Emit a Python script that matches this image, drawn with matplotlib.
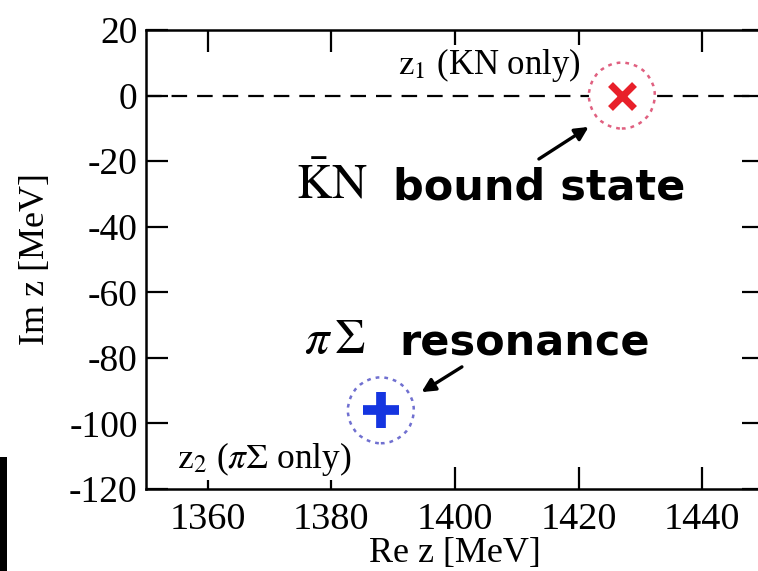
import matplotlib
matplotlib.use("Agg")
import matplotlib.pyplot as plt
from matplotlib.patches import Rectangle

plt.rcParams["font.family"] = ["Liberation Serif", "DejaVu Serif"]
plt.rcParams["mathtext.fontset"] = "stix"
plt.rcParams["axes.unicode_minus"] = False

# pole positions in the complex energy plane (MeV)
pole_re = [1427, 1388]
pole_im = [0, -96]
pole_colors = ["#e8202a", "#1535e0"]
ring_colors = ["#e06080", "#7070d0"]
pole_markers = ["x", "+"]

x_ticks = [1360, 1380, 1400, 1420, 1440]
y_ticks = [20, 0, -20, -40, -60, -80, -100, -120]

W, H = 758, 571
fig = plt.figure(figsize=(W / 100, H / 100), dpi=100)
ax = fig.add_axes([146 / W, 82 / H, (764 - 146) / W, (489 - 30) / H])
ax.set_xlim(1350, 1450)
ax.set_ylim(-120, 20)
ax.set_xticks(x_ticks)
ax.set_yticks(y_ticks)
ax.tick_params(direction="in", length=16, width=1.6, top=True, right=True)
ax.tick_params(axis="x", labelsize=27.5, pad=10)
ax.tick_params(axis="y", labelsize=27, pad=6)
for s in ax.spines.values():
    s.set_linewidth(1.8)

ax.axhline(0, color="black", lw=1.6, ls=(0, (7, 4.5)), zorder=1)

# dotted rings around the poles
ax.scatter(pole_re[0], pole_im[0], s=2250, facecolors="white",
           edgecolors=ring_colors[0], linewidths=1.8, linestyles=(0, (1.5, 2.0)), zorder=3)
ax.scatter(pole_re[1], pole_im[1], s=2250, facecolors="white",
           edgecolors=ring_colors[1], linewidths=1.8, linestyles=(0, (1.5, 2.0)), zorder=3)
ax.plot(pole_re[0], pole_im[0], marker=pole_markers[0], color=pole_colors[0],
        ms=17, mew=5, ls="none", zorder=4)
ax.plot(pole_re[1], pole_im[1], marker=pole_markers[1], color=pole_colors[1],
        ms=26, mew=7, ls="none", zorder=4)

# pole labels
ax.text(1405.5, 9.3, r"$\mathrm{z}_1$ (KN only)", fontsize=25, ha="center", va="center",
        bbox=dict(facecolor="white", edgecolor="none", pad=1), zorder=2)
ax.text(1355, -111, r"$\mathrm{z}_2$ ($\pi\Sigma$ only)", fontsize=25.5, ha="left", va="center",
        bbox=dict(facecolor="white", edgecolor="none", pad=1), zorder=2)

ax.text(1380, -27.5, r"$\bar{\mathrm{K}}\mathrm{N}$", fontsize=35, ha="center", va="center")
ax.text(1390, -28, "bound state", fontsize=31, fontweight="bold",
        family="DejaVu Sans", ha="left", va="center")
ax.text(1380.6, -75, r"$\pi\,\Sigma$", fontsize=35, ha="center", va="center")
ax.text(1391, -75.5, "resonance", fontsize=31, fontweight="bold",
        family="DejaVu Sans", ha="left", va="center")

ax.annotate("", xy=(1422, -9.1), xytext=(1413.2, -19.8),
            arrowprops=dict(arrowstyle="-|>", color="black", lw=2.4,
                            mutation_scale=20))
ax.annotate("", xy=(1394.2, -90.9), xytext=(1401.5, -82.3),
            arrowprops=dict(arrowstyle="-|>", color="black", lw=2.4,
                            mutation_scale=20))

ax.set_xlabel("Re z [MeV]", fontsize=26, labelpad=0)
ax.set_ylabel("Im z [MeV]", fontsize=26, labelpad=12)

fig.patches.append(Rectangle((0, 0), 7 / W, 114 / H, transform=fig.transFigure,
                             facecolor="black", edgecolor="none"))

fig.savefig("out.png", dpi=100)
